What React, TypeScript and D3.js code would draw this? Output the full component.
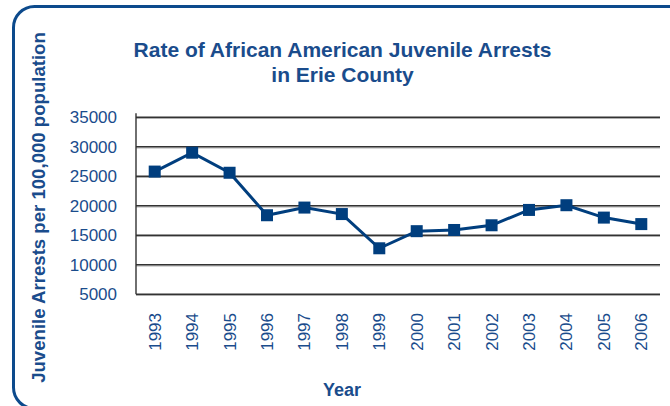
import React from "react";
import * as d3 from "d3";

const years: string[] = ["1993","1994","1995","1996","1997","1998","1999","2000","2001","2002","2003","2004","2005","2006"];
const arrestRates: number[] = [25800, 29000, 25600, 18400, 19700, 18600, 12800, 15700, 15900, 16700, 19300, 20100, 18000, 16900];
const yTicks: number[] = [5000, 10000, 15000, 20000, 25000, 30000, 35000];
const titleLines: string[] = ["Rate of African American Juvenile Arrests", "in Erie County"];
const yAxisTitle = "Juvenile Arrests per 100,000 population";
const xAxisTitle = "Year";

const W = 670;
const H = 406;
const left = 136;
const right = 660;
const top = 117.3;
const bottom = 294.3;

const textBlue = "#1a4c8c";
const lineBlue = "#003e7e";
const border = "#0c4a8c";
const font = "'Liberation Sans', Arial, Helvetica, sans-serif";

export default function App() {
  const x = d3.scalePoint<string>().domain(years).range([left, right]).padding(0.5);
  const y = d3.scaleLinear().domain([5000, 35000]).range([bottom, top]);
  const line = d3
    .line<number>()
    .x((_, i) => x(years[i]) as number)
    .y((d) => y(d));
  const ms = 12;

  return (
    <svg width={W} height={H} style={{ position: "absolute", left: 0, top: 0, display: "block" }} fontFamily={font}>
      <rect x={0} y={0} width={W} height={H} fill="#fff" />
      <rect x={13.5} y={6.5} width={690} height={402} rx={21} ry={21} fill="none" stroke={border} strokeWidth={3} />

      {titleLines.map((t, i) => (
        <text key={t} x={342.5} y={57.3 + i * 24.5} textAnchor="middle" fontSize={21} fontWeight="bold" fill={textBlue}>
          {t}
        </text>
      ))}

      <text transform={`translate(45,207.5) rotate(-90)`} textAnchor="middle" fontSize={18.6} fontWeight="bold" fill={textBlue}>
        {yAxisTitle}
      </text>
      <text x={342} y={396} textAnchor="middle" fontSize={18} fontWeight="bold" fill={textBlue}>
        {xAxisTitle}
      </text>

      {yTicks.map((t) => (
        <g key={t}>
          <line x1={left} x2={right} y1={y(t) + 1.2} y2={y(t) + 1.2} stroke="#b0b0b0" strokeWidth={1} />
          <line x1={left} x2={right} y1={y(t)} y2={y(t)} stroke="#333" strokeWidth={1.4} />
          <text x={117} y={y(t)} dy="0.36em" textAnchor="end" fontSize={17} fill={textBlue}>
            {t}
          </text>
        </g>
      ))}
      <line x1={left} x2={left} y1={top - 4} y2={bottom} stroke="#333" strokeWidth={1.4} />

      {years.map((yr) => (
        <text
          key={yr}
          transform={`translate(${(x(yr) as number) + 6},313) rotate(-90)`}
          textAnchor="end"
          fontSize={17}
          fill={textBlue}
        >
          {yr}
        </text>
      ))}

      <path d={line(arrestRates) || ""} fill="none" stroke={lineBlue} strokeWidth={3} />
      {arrestRates.map((v, i) => (
        <rect
          key={years[i]}
          x={(x(years[i]) as number) - ms / 2}
          y={y(v) - ms / 2}
          width={ms}
          height={ms}
          fill={lineBlue}
        />
      ))}
    </svg>
  );
}
